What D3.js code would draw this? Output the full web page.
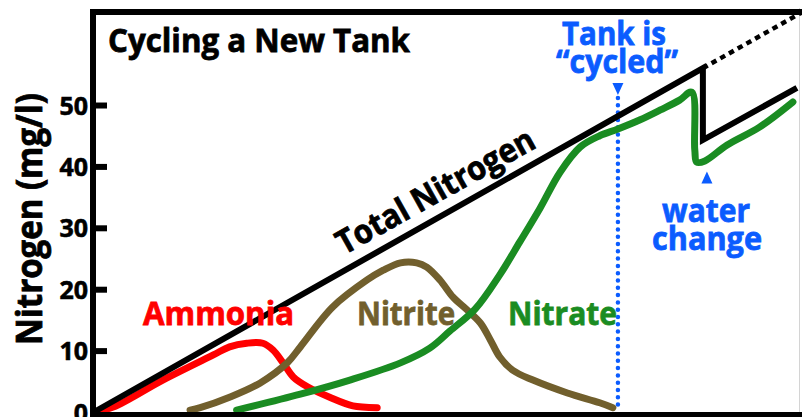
<!DOCTYPE html>
<html><head><meta charset="utf-8">
<script src="https://cdn.jsdelivr.net/npm/d3@7"></script>
<style>
html,body{margin:0;padding:0;background:#fff;}
svg{display:block;}
text{font-family:"Open Sans","Lato",sans-serif;font-weight:700;}
</style></head>
<body>
<svg id="c" width="802" height="417"></svg>
<script>
// ---- data (days, mg/l) ----
const ammoniaDays   = [0,1.9,6.8,11.8,13.4,15.1,16.7,17.7,18.7,19.7,21.1,23.3,25.6,28.0];
const ammoniaVals   = [0,0.8,5.2,9.3,10.6,11.2,11.2,10.1,8.0,5.7,4.1,2.4,1.0,0.7];
const nitriteDays   = [9.5,10.5,13.4,16.4,19.1,20.4,23.6,27.0,28.6,30.3,31.9,32.9,34.2,35.5,36.9,38.2,39.2,40.1,41.4,43.4,46.8,50.0,51.3];
const nitriteVals   = [0.3,0.7,2.4,4.7,8.0,10.6,17.1,21.5,23.1,24.3,24.3,23.6,21.5,18.7,16.6,14.5,11.7,9.0,6.8,5.2,3.1,1.5,0.7];
const nitrateDays   = [14.1,20.4,25.3,30.3,33.2,35.2,37.7,40.1,42.1,44.1,46.1,48.1,50.0,51.8,54.0,56.0,57.9,59.1,59.4,59.6,60.4,62.6,65.8,69.1];
const nitrateVals   = [0.3,2.9,5.2,8.0,10.4,13.2,16.8,22.3,27.7,33.2,39.1,43.2,45.0,46.1,47.6,49.2,50.8,52.1,42.7,40.7,40.9,43.5,46.4,50.5];
const totalDays     = [0,60.2,60.2,69.5];
const totalVals     = [0,56.0,44.3,52.8];
const projectedDays = [60.2,70];
const projectedVals = [56.0,65.1];
const cycledDay = 51.8;
const waterChangeDay = 60.6;
const yTicks = [0,10,20,30,40,50];

const zip = (a,b)=>a.map((d,i)=>[d,b[i]]);

const svg = d3.select("#c");
const x = d3.scaleLinear().domain([0,70]).range([94,802]);
const y = d3.scaleLinear().domain([0,65.15]).range([412,12]);

const colors = {ammonia:"#ff0000", nitrite:"#715f2d", nitrate:"#1a8c22", blue:"#0b5cff"};

// light border at right
svg.append("line").attr("x1",799.5).attr("x2",799.5).attr("y1",8).attr("y2",412)
  .attr("stroke","#d4d4d4").attr("stroke-width",1);

// axis ticks and labels
const axis = d3.axisLeft(y).tickValues(yTicks).tickSizeInner(-14).tickSizeOuter(0).tickPadding(5).tickFormat(d3.format("d"));
const gA = svg.append("g").attr("transform","translate(93,0)").call(axis);
gA.select(".domain").remove();
gA.selectAll(".tick line").attr("stroke","#000").attr("stroke-width",6);
gA.selectAll(".tick text").attr("font-size",25).attr("fill","#000")
  .attr("font-family","'Open Sans',sans-serif").attr("font-weight",700).attr("dy","0.36em")
  .attr("stroke","#000").attr("stroke-width",0.6);

const lineGen = d3.line().x(d=>x(d[0])).y(d=>y(d[1]));
const smooth = d3.line().x(d=>x(d[0])).y(d=>y(d[1])).curve(d3.curveCatmullRom.alpha(0.5));

// dotted cycled marker
svg.append("line").attr("x1",x(cycledDay)).attr("x2",x(cycledDay)).attr("y1",98).attr("y2",411)
  .attr("stroke",colors.blue).attr("stroke-width",4.5).attr("stroke-linecap","round")
  .attr("stroke-dasharray","0,7.3");

// series
[[ammoniaDays,ammoniaVals,colors.ammonia],[nitriteDays,nitriteVals,colors.nitrite],[nitrateDays,nitrateVals,colors.nitrate]]
 .forEach(([d,v,c])=>{
  svg.append("path").datum(zip(d,v)).attr("d",smooth)
    .attr("fill","none").attr("stroke",c).attr("stroke-width",7).attr("stroke-linecap","round").attr("stroke-linejoin","round");
 });

// total nitrogen
svg.append("path").datum(zip(totalDays,totalVals)).attr("d",lineGen)
  .attr("fill","none").attr("stroke","#000").attr("stroke-width",6).attr("stroke-linejoin","miter");
svg.append("path").datum(zip(projectedDays,projectedVals)).attr("d",lineGen)
  .attr("fill","none").attr("stroke","#000").attr("stroke-width",4.5).attr("stroke-dasharray","5.5,4.5");

// frame
svg.append("path").attr("d",`M93,415 L93,12 L802,12`).attr("fill","none").attr("stroke","#000").attr("stroke-width",6).attr("stroke-linejoin","miter");
svg.append("line").attr("x1",90).attr("x2",802).attr("y1",415.5).attr("y2",415.5).attr("stroke","#000").attr("stroke-width",7);

// triangles
svg.append("path").attr("transform",`translate(${x(cycledDay)},89)`).attr("d","M-5.5,-6L5.5,-6L0,6Z").attr("fill",colors.blue);
svg.append("path").attr("transform",`translate(${x(waterChangeDay)},177.5)`).attr("d","M-5.5,6L5.5,6L0,-6Z").attr("fill",colors.blue);

// texts
function label(t, px, py, size, len, fill, anchor, rot){
  const el = svg.append("text").attr("x",px).attr("y",py).attr("font-size",size)
    .attr("fill",fill).attr("stroke",fill).attr("stroke-width",0.8).attr("text-anchor",anchor||"start")
    .attr("textLength",len).attr("lengthAdjust","spacingAndGlyphs").text(t);
  if(rot) el.attr("transform",`rotate(${rot},${px},${py})`);
  return el;
}
label("Cycling a New Tank",108,52,33,302,"#000");
label("Tank is",614,45,33,104,colors.blue,"middle");
label("\u201Ccycled\u201D",617,73,33,122,colors.blue,"middle");
label("Ammonia",143,325,33,151,colors.ammonia);
label("Nitrite",357,325,33,98,colors.nitrite);
label("Nitrate",508,325,33,109,colors.nitrate);
label("water",706,222,33,88,colors.blue,"middle");
label("change",707,250,33,110,colors.blue,"middle");
label("Total Nitrogen",441,201,33,222,"#000","middle",-29.2);
label("Nitrogen (mg/l)",42,219,35,252,"#000","middle",-90);
</script>
</body></html>
